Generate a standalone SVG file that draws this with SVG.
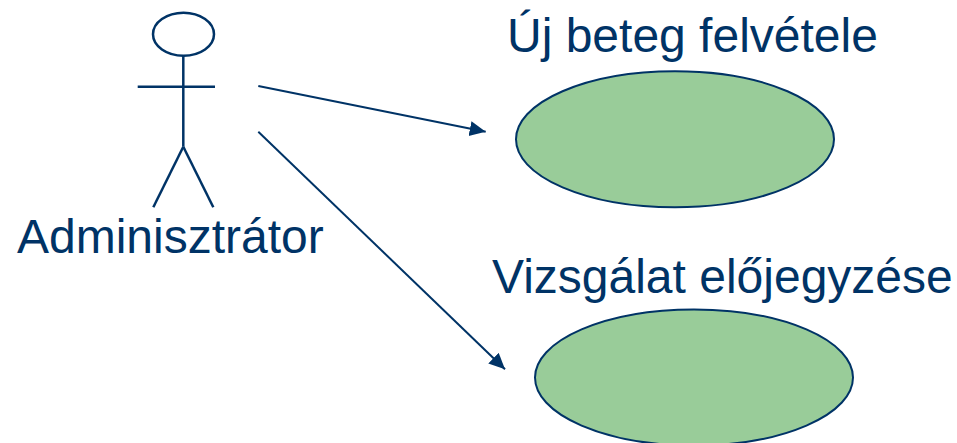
<svg xmlns="http://www.w3.org/2000/svg" width="957" height="443" viewBox="0 0 957 443">
  <style>
    .ink { stroke: #003366; fill: none; stroke-width: 2.5; }
    .label { font-family: "Liberation Sans", Arial, sans-serif; font-size: 48px; fill: #003366; }
    .usecase { fill: #99CC99; stroke: #003366; stroke-width: 2; }
    .link { stroke: #003366; stroke-width: 2; fill: none; marker-end: url(#arrow); }
  </style>
  <defs>
    <marker id="arrow" markerUnits="userSpaceOnUse" markerWidth="18" markerHeight="16" refX="16" refY="7.5" orient="auto">
      <path d="M0,0 L16,7.5 L0,15 Z" fill="#003366"/>
    </marker>
  </defs>
  <rect width="957" height="443" fill="#ffffff"/>

  <!-- actor -->
  <g id="actor">
    <ellipse class="ink" cx="183.5" cy="34.3" rx="30.5" ry="21.5"/>
    <line class="ink" x1="183.3" y1="56" x2="183.3" y2="146.7"/>
    <line class="ink" x1="137.7" y1="86.7" x2="215" y2="86.7"/>
    <line class="ink" x1="183.3" y1="146.7" x2="153.3" y2="207.3"/>
    <line class="ink" x1="183.3" y1="146.7" x2="213.3" y2="207.3"/>
    <text class="label" x="17" y="252.7">Adminisztrátor</text>
  </g>

  <!-- use case: new patient -->
  <g id="uc-new-patient">
    <text class="label" x="507" y="52">Új beteg felvétele</text>
    <ellipse class="usecase" cx="675" cy="139.3" rx="159" ry="68"/>
  </g>

  <!-- use case: exam booking -->
  <g id="uc-exam-booking">
    <text class="label" x="492" y="293">Vizsgálat előjegyzése</text>
    <ellipse class="usecase" cx="694" cy="377.5" rx="159" ry="68"/>
  </g>

  <!-- connectors -->
  <g id="connectors">
    <line class="link" x1="258.3" y1="86" x2="485.7" y2="131.7"/>
    <line class="link" x1="258.3" y1="131.7" x2="505" y2="369.3"/>
  </g>
</svg>
